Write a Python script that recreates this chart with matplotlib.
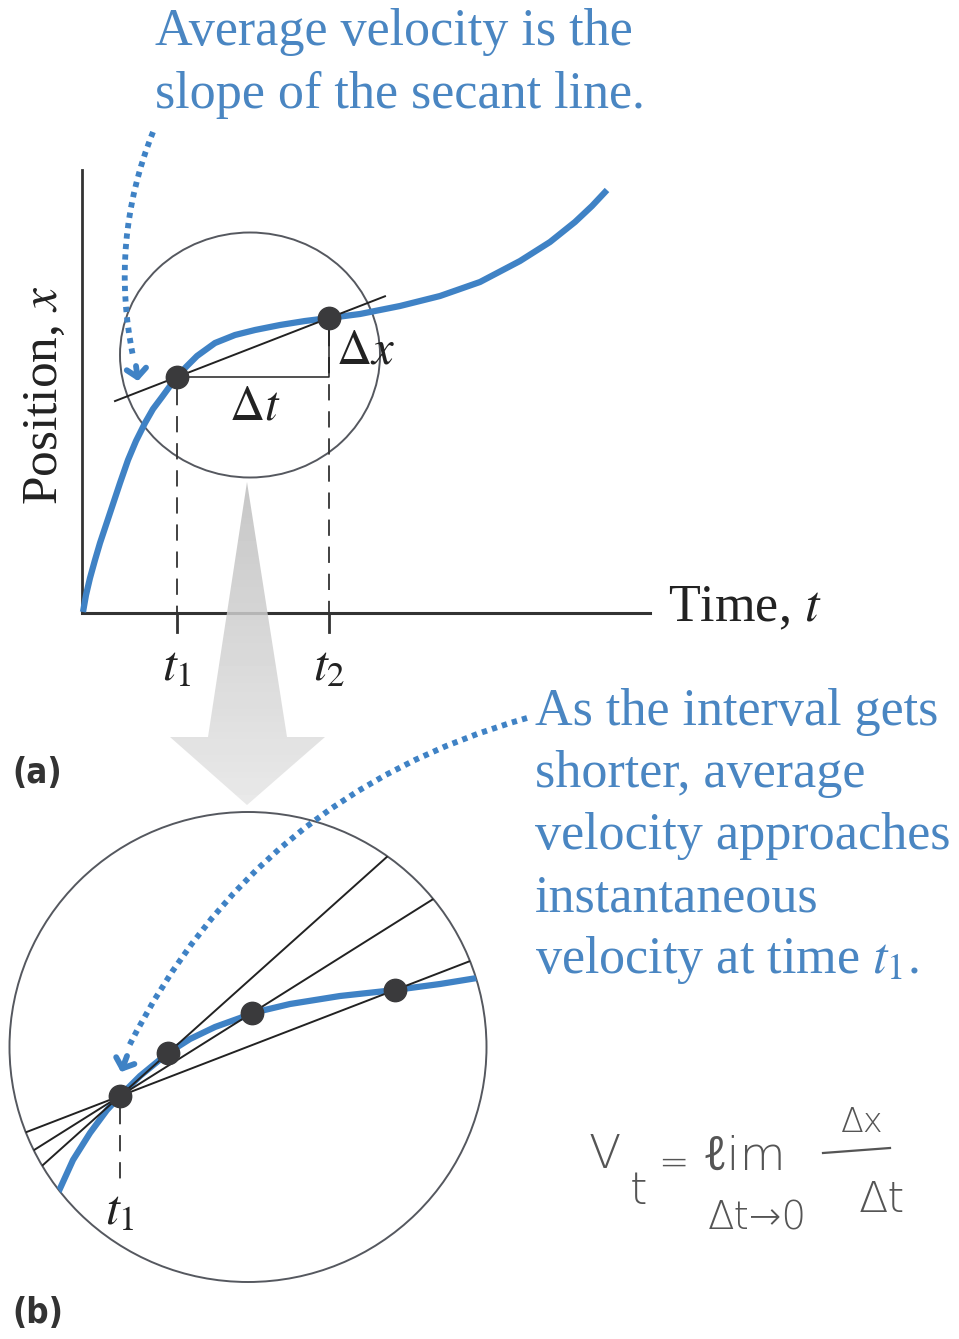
import matplotlib
matplotlib.use("Agg")
import matplotlib.pyplot as plt
import numpy as np
from matplotlib.patches import Ellipse, Polygon, FancyArrowPatch

plt.rcParams['font.family'] = ['Liberation Serif', 'DejaVu Serif']
plt.rcParams['mathtext.fontset'] = 'stix'

# couleurs
bleu = '#3f82c5'
bleu_texte = '#4a86c2'
gris_fonce = '#333333'
gris_cercle = '#55585f'

## données (pixels)

# courbe x(t) du panneau (a)
courbe_a_t = [83, 86, 90, 95, 100, 106, 112, 120, 128, 136, 145, 153, 162, 170, 177, 186, 197, 215, 235, 255, 280, 305, 329,
              360, 400, 440, 480, 520, 550, 575, 592, 607]
courbe_a_x = [612, 595, 578, 560, 543, 525, 507, 483, 460, 441, 423, 409, 397, 386, 377, 367, 356, 343, 335, 330, 325, 321, 318,
              314, 306, 296, 282, 261, 242, 222, 206, 190]

# points t1, t2 et sécante
pt_t1 = (177, 377)
pt_t2 = (329, 318)
secante_t = [115, 385]
axe_x_bas = 613
axe_y_gauche = 82

# courbe du panneau (b) (zoom)
courbe_b_t = [58, 73, 90, 107, 120, 140, 168, 190, 215, 240, 252, 290, 340, 395, 440, 477, 495]
courbe_b_x = [1193, 1160, 1133, 1110, 1096, 1076, 1053, 1039, 1027, 1018, 1013, 1004, 996, 990, 984, 978, 976]
pt_b_t1 = (120, 1096)
pts_b = [(168, 1053), (252, 1013), (395, 990)]

# cercles (centre, largeur, hauteur)
cercle_a = ((250, 355), 260, 245)
cercle_b = ((248, 1047), 477, 470)

# flèches pointillées (début, fin, courbure) et pointes (base, pointe)
fleche_a = ((153, 132), (133, 356), 0.15)
pointe_a = ((136, 366), (138, 381))
fleche_b = ((527, 718), (129, 1046), 0.22)
pointe_b = ((127, 1056), (121, 1072))

# grosse flèche grise
fleche_grise = [(247, 482), (287, 737), (325, 737), (247, 805), (170, 737), (208, 737)]

fig = plt.figure(figsize=(9.59, 13.39), dpi=100)
ax = fig.add_axes([0, 0, 1, 1])
ax.set_xlim(0, 959)
ax.set_ylim(1339, 0)
ax.axis('off')

## panneau (a)

# axes
ax.plot([axe_y_gauche, axe_y_gauche], [170, axe_x_bas], color=gris_fonce, lw=2, zorder=3)
ax.plot([axe_y_gauche, 650], [axe_x_bas, axe_x_bas], color=gris_fonce, lw=2.2, zorder=3)

# lignes pointillées verticales
for p in [pt_t1, pt_t2]:
    ax.plot([p[0], p[0]], [p[1] + 12, axe_x_bas], color=gris_fonce, lw=1.3, ls=(0, (9, 6)), zorder=3)
    ax.plot([p[0], p[0]], [axe_x_bas, 632], color=gris_fonce, lw=2, zorder=3)

# cercle
e = Ellipse(cercle_a[0], cercle_a[1], cercle_a[2], fill=False, ec=gris_cercle, lw=1.4, zorder=2)
ax.add_patch(e)

# courbe
ax.plot(courbe_a_t, courbe_a_x, color=bleu, lw=4.5, solid_capstyle='butt', solid_joinstyle='round', zorder=4)

# sécante et triangle
pente = (pt_t2[1] - pt_t1[1]) / (pt_t2[0] - pt_t1[0])
secante_x = [pt_t1[1] + pente * (t - pt_t1[0]) for t in secante_t]
ax.plot(secante_t, secante_x, color='#222222', lw=1.4, zorder=5)
ax.plot([pt_t1[0], pt_t2[0], pt_t2[0]], [pt_t1[1], pt_t1[1], pt_t2[1]], color='#222222', lw=1.1, zorder=5)
ax.scatter([pt_t1[0], pt_t2[0]], [pt_t1[1], pt_t2[1]], s=260, color='#3a3a3c', zorder=6)

ax.text(255, 407, r'$\Delta t$', fontsize=35, ha='center', va='center', color='#222222', zorder=7)
ax.text(336, 351, r'$\Delta x$', fontsize=35, ha='left', va='center', color='#222222', zorder=7)
ax.text(pt_t1[0], 668, r'$t_1$', fontsize=36, ha='center', va='center', color='#222222')
ax.text(pt_t2[0], 668, r'$t_2$', fontsize=36, ha='center', va='center', color='#222222')
ax.text(668, 608, r'Time, $t$', fontsize=37.5, ha='left', va='center', color='#222222')
ax.text(45, 395, r'Position, $x$', fontsize=37, ha='center', va='center', rotation=90, color='#222222')

ax.text(155, 32, 'Average velocity is the', fontsize=37.5, ha='left', va='center', color=bleu_texte)
ax.text(155, 95, 'slope of the secant line.', fontsize=37.5, ha='left', va='center', color=bleu_texte)

ax.text(12, 773, '(a)', fontsize=25, fontweight='bold', fontstretch='condensed', ha='left', va='center',
        family=['DejaVu Sans'], color='#333333')

# grosse flèche grise en dégradé
poly = Polygon(fleche_grise, closed=True, fc='none', ec='none', zorder=8)
ax.add_patch(poly)
degrade = np.linspace(0.74, 0.9, 100).reshape(-1, 1)
im = ax.imshow(degrade, cmap='gray', vmin=0, vmax=1, extent=(160, 340, 808, 478),
               aspect='auto', alpha=0.85, zorder=8)
im.set_clip_path(poly)
ax.set_xlim(0, 959)
ax.set_ylim(1339, 0)

## panneau (b)

cb = Ellipse(cercle_b[0], cercle_b[1], cercle_b[2], fill=False, ec=gris_cercle, lw=1.4, zorder=2)
ax.add_patch(cb)
clip_b = Ellipse(cercle_b[0], cercle_b[1], cercle_b[2], fill=False, ec='none', transform=ax.transData)
ax.add_patch(clip_b)

for p in pts_b:
    pente_b = (p[1] - pt_b_t1[1]) / (p[0] - pt_b_t1[0])
    tt = np.array([0, 500])
    l, = ax.plot(tt, pt_b_t1[1] + pente_b * (tt - pt_b_t1[0]), color='#222222', lw=1.4, zorder=5)
    l.set_clip_path(clip_b)

lc, = ax.plot(courbe_b_t, courbe_b_x, color=bleu, lw=4.5, solid_joinstyle='round', zorder=4)
lc.set_clip_path(clip_b)

ax.plot([pt_b_t1[0], pt_b_t1[0]], [pt_b_t1[1] + 12, 1188], color=gris_fonce, lw=1.3, ls=(0, (9, 6)), zorder=3)
ax.scatter([pt_b_t1[0]] + [p[0] for p in pts_b], [pt_b_t1[1]] + [p[1] for p in pts_b],
           s=260, color='#3a3a3c', zorder=6)
ax.text(pt_b_t1[0], 1212, r'$t_1$', fontsize=36, ha='center', va='center', color='#222222')

ax.text(12, 1313, '(b)', fontsize=25, fontweight='bold', fontstretch='condensed', ha='left', va='center',
        family=['DejaVu Sans'], color='#333333')

texte_b = ['As the interval gets', 'shorter, average', 'velocity approaches',
           'instantaneous', r'velocity at time $t_1$.']
for i, ligne in enumerate(texte_b):
    ax.text(535, 712 + 62 * i, ligne, fontsize=37.5, ha='left', va='center', color=bleu_texte)

# flèches pointillées bleues
for deb, fin, rad in [fleche_a, fleche_b]:
    fa = FancyArrowPatch(deb, fin, connectionstyle='arc3,rad=%s' % rad, arrowstyle='-',
                         color=bleu, lw=4.2, ls=(0, (0.9, 0.9)), capstyle='butt',
                         shrinkA=0, shrinkB=0, zorder=9)
    ax.add_patch(fa)
for base, pointe in [pointe_a, pointe_b]:
    ax.annotate('', xy=pointe, xytext=base,
                arrowprops=dict(arrowstyle='->,head_length=0.6,head_width=0.7', color=bleu, lw=4.2,
                                shrinkA=0, shrinkB=0), zorder=9)

# formule manuscrite
manus = dict(color='#555555', family=['DejaVu Sans', 'Noto Sans', 'Liberation Sans'], fontweight='light',
             ha='center', va='center')
ax.text(605, 1155, 'V', fontsize=34, **manus)
ax.text(638, 1192, 't', fontsize=32, **manus)
ax.text(673, 1164, '=', fontsize=26, **manus)
ax.text(744, 1157, 'ℓim', fontsize=34, **manus)
ax.text(757, 1218, 'Δt→0', fontsize=28, **manus)
ax.text(862, 1122, 'Δx', fontsize=24, **manus)
ax.plot([823, 890], [1153, 1148], color='#555555', lw=1.6)
ax.text(882, 1200, 'Δt', fontsize=31, **manus)

fig.savefig('out.png', dpi=100)
